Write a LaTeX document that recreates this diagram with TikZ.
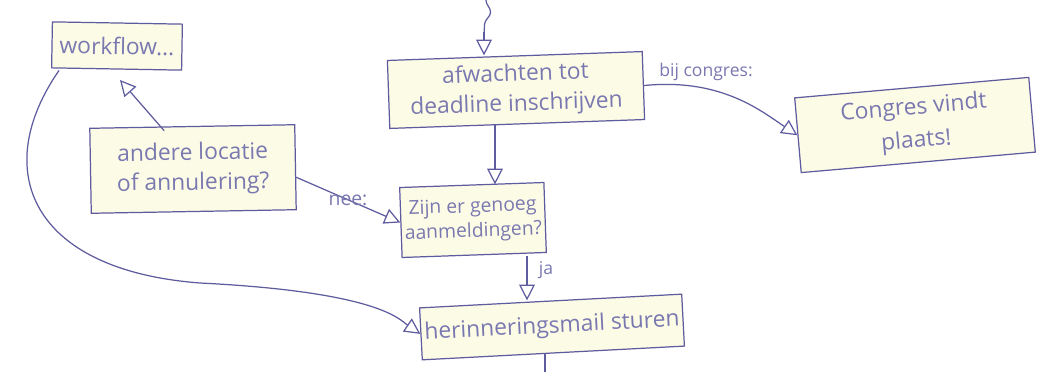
\documentclass[tikz,border=0pt]{standalone}
\usepackage{fontspec}
\setmainfont{Open Sans}
\usetikzlibrary{arrows.meta,decorations.pathmorphing,calc}
\definecolor{ink}{HTML}{5E5C9E}
\definecolor{pen}{HTML}{7A78B0}
\definecolor{hilite}{HTML}{FCFCE6}
\tikzset{
  x=0.02cm,y=-0.02cm,
  card/.style={draw=ink,fill=hilite,line width=0.7pt,rectangle,inner sep=2pt,
    align=center,text=pen,font=\fontsize{13}{17}\selectfont},
  flow/.style={draw=ink,line width=0.7pt,-{Triangle[open,length=9pt,width=9pt]}},
  plainflow/.style={draw=ink,line width=0.7pt},
  note/.style={text=pen,font=\fontsize{10}{12}\selectfont,inner sep=1pt}
}
\begin{document}
\begin{tikzpicture}
\useasboundingbox[fill=white] (0,0) rectangle (1042,372);

% boxes
\node[card,minimum width=2.6cm,minimum height=0.92cm,rotate=-1] (wf) at (117,46) {workflow...};
\node[card,minimum width=4.1cm,minimum height=1.7cm,rotate=1] (alt) at (193,169) {andere locatie\\of annulering?};
\node[card,minimum width=5.1cm,minimum height=1.36cm,rotate=2] (wait) at (516,90) {afwachten tot\\deadline inschrijven};
\node[card,minimum width=4.7cm,minimum height=1.5cm,rotate=5,font=\fontsize{13}{19}\selectfont] (conf) at (915,125) {Congres vindt\\plaats!};
\node[card,minimum width=2.34cm,minimum height=1.4cm,font=\fontsize{11}{14}\selectfont,rotate=2] (enough) at (473,220) {Zijn er genoeg\\aanmeldingen?};
\node[card,minimum width=4.0cm,minimum height=1.04cm,rotate=3] (mail) at (552,327) {herinneringsmail sturen};

% incoming wavy stroke at the top
\coordinate (src) at (486,0);
\draw[plainflow,decorate,decoration={snake,amplitude=3pt,segment length=22pt}] (src) -- (484,34);
\draw[flow] (484,32) -- (wait.north -| 484,0);

% connectors
\coordinate (wfend) at (120,80);
\draw[flow] ($(alt.north west)+(75,3)$) -- (wfend);
\draw[flow] (wait.south -| 495,0) -- (enough.north -| 495,0);
\draw[flow] (wait.east) .. controls (720,78) and (760,110) .. (conf.west);
\node[note] at (706,72) {bij congres:};
\draw[flow] (alt.east) ++(0,10) -- (enough.west);
\node[note,font=\fontsize{11}{13}\selectfont] at (348,200) {nee:};
\draw[flow] (enough.south -| 527,0) -- (mail.north -| 527,0);
\node[note] at (546,270) {ja};
\draw[flow] ($(wf.south west)+(8,2)$) .. controls (-10,170) and (30,270) .. (200,283)
  .. controls (380,292) and (400,320) .. (mail.west);
\coordinate (down) at (545,372);
\draw[plainflow] (mail.south -| 545,0) -- (down);
\end{tikzpicture}
\end{document}
